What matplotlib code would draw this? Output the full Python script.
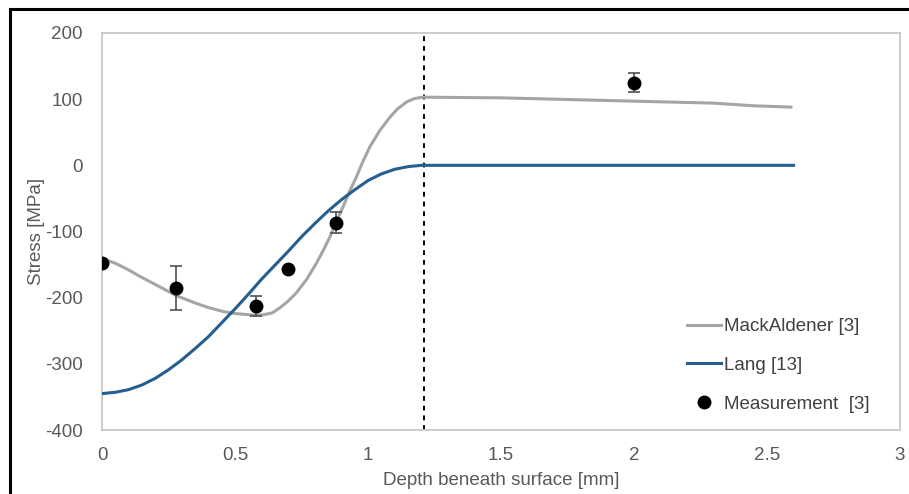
import matplotlib
matplotlib.use("Agg")
import matplotlib.pyplot as plt
from matplotlib.patches import Rectangle
from matplotlib.lines import Line2D

plt.rcParams['font.family'] = ['Liberation Sans', 'DejaVu Sans']
plt.rcParams['axes.unicode_minus'] = False

# MackAldener [3] model curve
mack_x = [0.0, 0.05, 0.1, 0.143, 0.2, 0.28, 0.35, 0.4, 0.456, 0.5, 0.56, 0.606,
          0.64, 0.67, 0.7, 0.73, 0.77, 0.806, 0.83, 0.857, 0.88, 0.907, 0.93,
          0.957, 0.98, 1.007, 1.045, 1.083, 1.11, 1.146, 1.175, 1.207, 1.5,
          2.0, 2.3, 2.45, 2.59]
mack_y = [-141, -148, -158, -168, -180, -197, -208, -215, -221, -224, -226, -226,
          -223, -215, -205, -193, -172, -148, -130, -108, -86, -62, -40,
          -17, 5, 28, 53, 73, 85, 96, 101, 103, 102,
          97, 94, 90, 88]

# Lang [13] model curve
lang_x = [0.0, 0.05, 0.1, 0.15, 0.2, 0.25, 0.3, 0.35, 0.4, 0.45, 0.5, 0.55, 0.6,
          0.65, 0.7, 0.75, 0.8, 0.85, 0.9, 0.95, 1.0, 1.05, 1.1, 1.15, 1.2, 2.6]
lang_y = [-345, -343, -339, -332, -322, -309, -294, -277, -259, -238, -217, -195,
          -172, -151, -130, -108, -88, -69, -52, -37, -23, -13, -6, -2, 0, 0]

# Measurement [3]
meas_x = [0.0, 0.28, 0.58, 0.70, 0.88, 2.0]
meas_y = [-147, -185, -212, -157, -87, 125]
meas_err = [0, 33, 15, 0, 16, 14]

depth_limit = 1.21

grey = '#A5A5A5'
blue = '#255E91'
txt = '#595959'
fs = 13.5

fig = plt.figure(figsize=(9.09, 4.94), dpi=100)
ax = fig.add_axes([102/909, 1-430/494, (900-102)/909, (430-33)/494])

ax.plot(mack_x, mack_y, color=grey, lw=2.2, zorder=3)
ax.plot(lang_x, lang_y, color=blue, lw=2.2, zorder=3)
ax.errorbar(meas_x, meas_y, yerr=meas_err, fmt='o', color='black', ms=9,
            ecolor='#505050', elinewidth=1.2, capsize=4, capthick=1.2, zorder=4)
ax.axvline(depth_limit, color='black', lw=1.4, ls=(0, (2.5, 2.5)), zorder=2)

ax.set_xlim(0, 3)
ax.set_ylim(-400, 200)
ax.set_xticks([0, 0.5, 1, 1.5, 2, 2.5, 3])
ax.set_xticklabels(['0', '0.5', '1', '1.5', '2', '2.5', '3'])
ax.set_yticks([-400, -300, -200, -100, 0, 100, 200])
ax.tick_params(length=0, labelsize=fs, colors=txt)
ax.tick_params(axis='x', pad=12)
ax.tick_params(axis='y', pad=14)
for s in ax.spines.values():
    s.set_color('#C8C8C8')
    s.set_linewidth(1.3)

ax.set_xlabel('Depth beneath surface [mm]', fontsize=fs, color=txt, labelpad=6)
ax.set_ylabel('Stress [MPa]', fontsize=fs, color=txt, labelpad=0)

handles = [Line2D([], [], color=grey, lw=2.2),
           Line2D([], [], color=blue, lw=2.2),
           Line2D([], [], ls='none', marker='o', color='black', ms=9)]
labels = ['MackAldener [3]', 'Lang [13]', 'Measurement  [3]']
ax.legend(handles, labels, loc='upper left',
          bbox_to_anchor=(672/909, 1-303/494), bbox_transform=fig.transFigure,
          frameon=False, fontsize=fs, labelspacing=1.16, handlelength=1.8,
          handletextpad=0.15, labelcolor='#404040', borderpad=0.3)

fig.add_artist(Rectangle((10/909, -0.05), 1.2, 1-9/494+0.05, transform=fig.transFigure,
                         fill=False, edgecolor='black', lw=2.2))

fig.savefig('out.png', dpi=100)
